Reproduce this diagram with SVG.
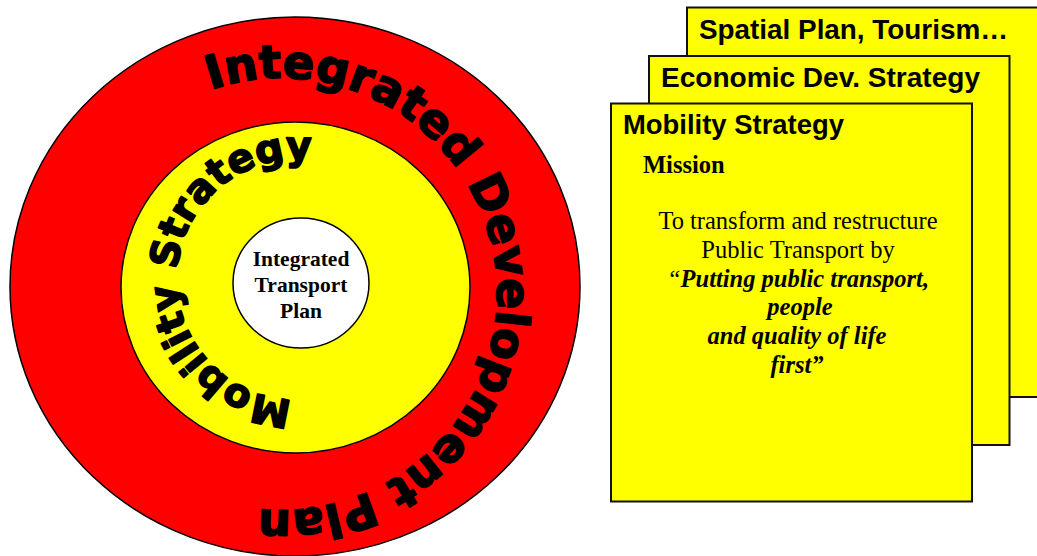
<svg xmlns="http://www.w3.org/2000/svg" xmlns:xlink="http://www.w3.org/1999/xlink" width="1037" height="556" viewBox="0 0 1037 556">
  <style>
    .ring { stroke: #000; stroke-width: 1.5; }
    .card { fill: #FFFF00; stroke: #111; stroke-width: 2; }
    .arc-text { font-family: "DejaVu Sans", "Liberation Sans", sans-serif; font-weight: bold; fill: #000; stroke: #000; stroke-width: 1.7; stroke-linejoin: round; }
    .head { font-family: "Liberation Sans", Arial, sans-serif; font-weight: bold; font-size: 27.5px; fill: #000; }
    .serif { font-family: "Liberation Serif", "Times New Roman", serif; fill: #000; }
    .itp { font-size: 21.5px; font-weight: bold; text-anchor: middle; }
    .body { font-size: 24.5px; text-anchor: middle; }
    .quote { font-weight: bold; font-style: italic; }
  </style>
  <defs>
    <path id="outerArc" d="M210.7,89.8 A216,216 0 1 1 207.1,497.0"/>
    <path id="innerArc" d="M292.8,399.4 A120,120 0 1 1 338.0,166.7"/>
  </defs>
  <rect width="1037" height="556" fill="#fff"/>

  <g id="idp">
    <ellipse class="ring" cx="295" cy="286.5" rx="285" ry="269.5" fill="#FF0000"/>
    <text class="arc-text" font-size="46.4"><textPath xlink:href="#outerArc" href="#outerArc">Integrated Development Plan</textPath></text>
  </g>

  <g id="mobility-ring">
    <ellipse class="ring" cx="295.5" cy="287.5" rx="174.5" ry="165.5" fill="#FFFF00"/>
    <text class="arc-text" font-size="39.5"><textPath xlink:href="#innerArc" href="#innerArc">Mobility Strategy</textPath></text>
  </g>

  <g id="itp">
    <ellipse class="ring" cx="301" cy="283" rx="68" ry="65" fill="#fff"/>
    <text class="serif itp" x="301" y="265.7">Integrated</text>
    <text class="serif itp" x="301" y="292.3">Transport</text>
    <text class="serif itp" x="301" y="318.3">Plan</text>
  </g>

  <g id="spatial-card">
    <rect class="card" x="687" y="7.5" width="360" height="389.5"/>
    <text class="head" x="699" y="38.5" textLength="309" lengthAdjust="spacingAndGlyphs">Spatial Plan, Tourism…</text>
  </g>

  <g id="economic-card">
    <rect class="card" x="649" y="56" width="360.5" height="389"/>
    <text class="head" x="661" y="87" textLength="319" lengthAdjust="spacingAndGlyphs">Economic Dev. Strategy</text>
  </g>

  <g id="mobility-card">
    <rect class="card" x="611" y="103.5" width="361" height="398"/>
    <text class="head" x="623" y="134" textLength="221" lengthAdjust="spacingAndGlyphs">Mobility Strategy</text>
    <text class="serif" x="643" y="173" font-size="24.5" font-weight="bold">Mission</text>
    <text class="serif body" x="798" y="229.3">To transform and restructure</text>
    <text class="serif body" x="798" y="258.3">Public Transport by</text>
    <text class="serif body" x="798" y="286.7"><tspan font-style="italic">“</tspan><tspan class="quote">Putting public transport,</tspan></text>
    <text class="serif body quote" x="800" y="315">people</text>
    <text class="serif body quote" x="797" y="344">and quality of life</text>
    <text class="serif body quote" x="797" y="372.7">first”</text>
  </g>

  <g id="connectors"></g>
</svg>
